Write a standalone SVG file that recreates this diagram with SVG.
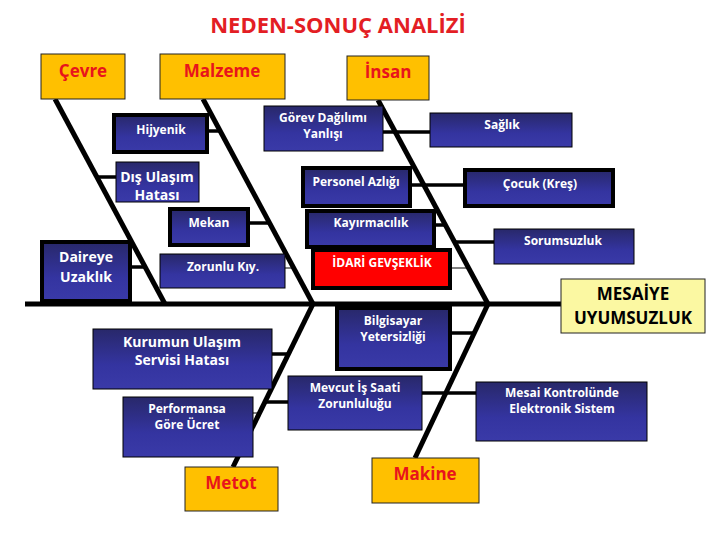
<svg xmlns="http://www.w3.org/2000/svg" width="720" height="540" viewBox="0 0 720 540">
<defs>
<linearGradient id="navy" x1="0" y1="0" x2="0" y2="1">
<stop offset="0" stop-color="#28286a"/>
<stop offset="0.6" stop-color="#3434a0"/>
<stop offset="1" stop-color="#3a3aa8"/>
</linearGradient>
<style>
.cat{fill:#ffc000;stroke:#222;stroke-width:1}
.catt{font-family:"Open Sans","Liberation Sans",sans-serif;font-weight:bold;font-size:17px;fill:#e8141c;text-anchor:middle}
.nv{fill:url(#navy);stroke:#000;stroke-width:1}
.nvk{fill:url(#navy);stroke:#000;stroke-width:4}
.t{font-family:"Open Sans","Liberation Sans",sans-serif;font-weight:bold;font-size:12px;fill:#fff;text-anchor:middle}
.t14{font-size:14px}
.bone{stroke:#000;stroke-width:5;fill:none;stroke-linecap:butt}
.br{stroke:#000;stroke-width:3.5;fill:none}
.th{stroke:#000;stroke-width:1;fill:none}
.eff{font-family:"Open Sans","Liberation Sans",sans-serif;font-weight:bold;font-size:17px;fill:#000;text-anchor:middle}
</style>
</defs>
<rect width="720" height="540" fill="#fff"/>
<text x="338" y="33" font-family="'Open Sans','Liberation Sans',sans-serif" font-weight="bold" font-size="22" fill="#e31e24" text-anchor="middle">NEDEN-SONUÇ ANALİZİ</text>
<g id="connectors">
<line class="bone" x1="25" y1="304" x2="562" y2="304" stroke-width="6"/>
<line class="bone" x1="55" y1="99" x2="165" y2="304"/>
<line class="bone" x1="203" y1="99" x2="313" y2="304"/>
<line class="bone" x1="378" y1="100" x2="488" y2="304"/>
<line class="bone" x1="313" y1="304" x2="233" y2="467"/>
<line class="bone" x1="488" y1="304" x2="415" y2="458"/>
<line class="br" x1="207" y1="131" x2="220" y2="131"/>
<line class="br" x1="97" y1="177" x2="116" y2="177"/>
<line class="br" x1="248" y1="223" x2="269" y2="223"/>
<line class="br" x1="130" y1="267" x2="145" y2="267"/>
<line class="th" x1="285" y1="268" x2="294" y2="268"/>
<line class="br" x1="383" y1="132" x2="430" y2="132"/>
<line class="br" x1="410" y1="185" x2="465" y2="185"/>
<line class="br" x1="434" y1="225" x2="445" y2="225"/>
<line class="br" x1="454" y1="242" x2="494" y2="242"/>
<line class="th" x1="450" y1="268" x2="469" y2="268"/>
<line class="br" x1="272" y1="354" x2="289" y2="354"/>
<line class="th" x1="253" y1="413" x2="260" y2="413"/>
<line class="br" x1="265" y1="402" x2="288" y2="402"/>
<line class="br" x1="450" y1="333" x2="474" y2="333"/>
<line class="br" x1="422" y1="393" x2="476" y2="393"/>
</g>
<g id="cevre"><rect class="cat" x="41" y="54" width="84" height="45"/><text class="catt" x="83" y="77">Çevre</text></g>
<g id="malzeme"><rect class="cat" x="160" y="54" width="125" height="45"/><text class="catt" x="222" y="77">Malzeme</text></g>
<g id="insan"><rect class="cat" x="347" y="56" width="82" height="44"/><text class="catt" x="388" y="78">İnsan</text></g>
<g id="metot"><rect class="cat" x="185" y="467" width="93" height="44"/><text class="catt" x="231" y="489">Metot</text></g>
<g id="makine"><rect class="cat" x="372" y="458" width="107" height="45"/><text class="catt" x="425" y="480">Makine</text></g>
<g id="sonuc"><rect x="561" y="279" width="144" height="54" fill="#fbf8a2" stroke="#222" stroke-width="1"/><text class="eff" x="633" y="300">MESAİYE</text><text class="eff" x="633" y="324">UYUMSUZLUK</text></g>
<g id="hijyenik"><rect class="nvk" x="114" y="115" width="93" height="37"/><text class="t" x="161" y="134">Hijyenik</text></g>
<g id="disulasim"><rect class="nv" x="116" y="162" width="83" height="40"/><text class="t t14" x="157" y="182">Dış Ulaşım</text><text class="t t14" x="157" y="200">Hatası</text></g>
<g id="mekan"><rect class="nvk" x="170" y="209" width="78" height="36"/><text class="t" x="209" y="227">Mekan</text></g>
<g id="daireye"><rect class="nvk" x="42" y="242" width="88" height="59"/><text class="t t14" x="86" y="262">Daireye</text><text class="t t14" x="86" y="282">Uzaklık</text></g>
<g id="zorunlu"><rect class="nv" x="160" y="254" width="125" height="34"/><text class="t" x="223" y="271">Zorunlu Kıy.</text></g>
<g id="gorev"><rect class="nv" x="264" y="106" width="119" height="45"/><text class="t" x="323" y="122">Görev Dağılımı</text><text class="t" x="323" y="138">Yanlışı</text></g>
<g id="saglik"><rect class="nv" x="430" y="113" width="142" height="34"/><text class="t" x="502" y="129">Sağlık</text></g>
<g id="personel"><rect class="nvk" x="303" y="168" width="107" height="38"/><text class="t" x="356" y="186">Personel Azlığı</text></g>
<g id="cocuk"><rect class="nvk" x="465" y="170" width="148" height="36"/><text class="t" x="540" y="188">Çocuk (Kreş)</text></g>
<g id="kayirmacilik"><rect class="nvk" x="307" y="211" width="127" height="36"/><text class="t" x="371" y="227">Kayırmacılık</text></g>
<g id="sorumsuzluk"><rect class="nv" x="494" y="229" width="140" height="35"/><text class="t" x="563" y="245">Sorumsuzluk</text></g>
<g id="idari"><rect x="313" y="250" width="137" height="38" fill="#ff0000" stroke="#000" stroke-width="4"/><text class="t" x="382" y="267">İDARİ GEVŞEKLİK</text></g>
<g id="kurumun"><rect class="nv" x="93" y="329" width="179" height="60"/><text class="t t14" x="182" y="347">Kurumun Ulaşım</text><text class="t t14" x="182" y="365">Servisi Hatası</text></g>
<g id="performansa"><rect class="nv" x="123" y="397" width="130" height="60"/><text class="t" x="187" y="413">Performansa</text><text class="t" x="187" y="429">Göre Ücret</text></g>
<g id="bilgisayar"><rect class="nvk" x="337" y="308" width="113" height="61"/><text class="t" x="393" y="325">Bilgisayar</text><text class="t" x="393" y="341">Yetersizliği</text></g>
<g id="mevcut"><rect class="nv" x="288" y="376" width="134" height="54"/><text class="t" x="355" y="392">Mevcut İş Saati</text><text class="t" x="355" y="408">Zorunluluğu</text></g>
<g id="mesai"><rect class="nv" x="476" y="382" width="171" height="59"/><text class="t" x="562" y="397">Mesai Kontrolünde</text><text class="t" x="562" y="413">Elektronik Sistem</text></g>
</svg>
